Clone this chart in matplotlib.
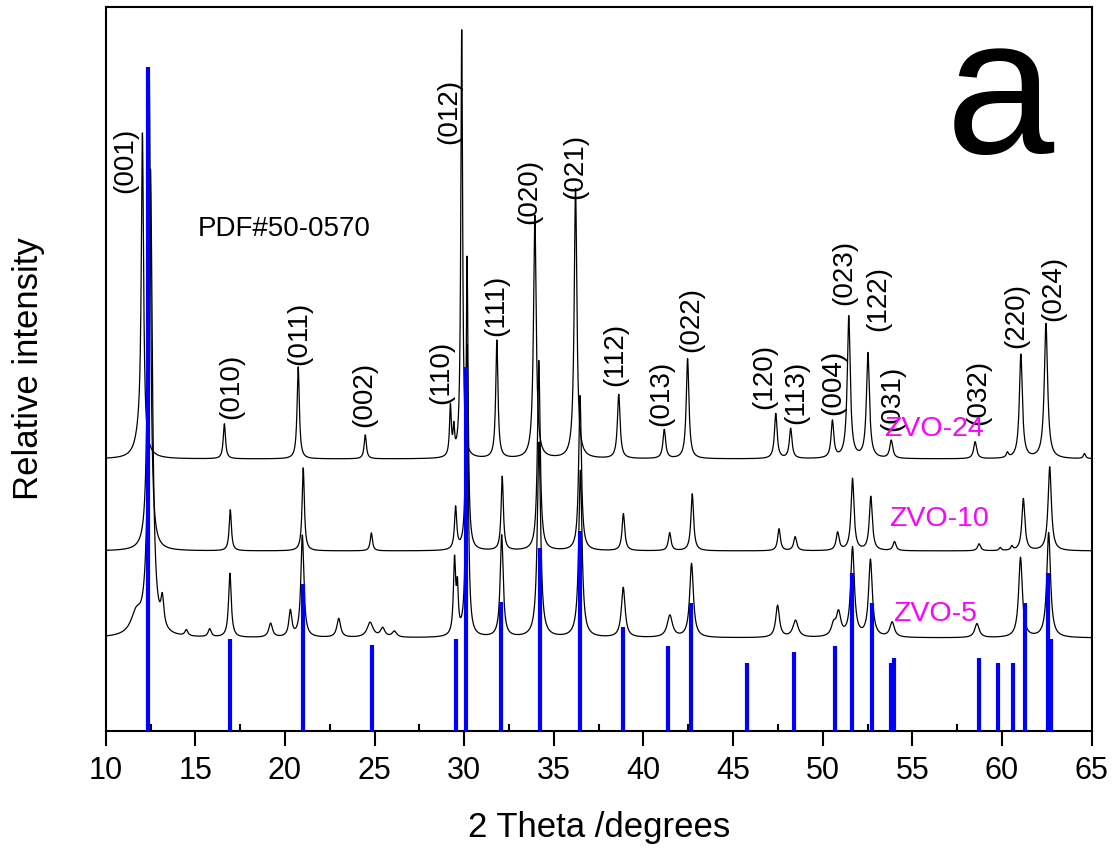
#!/usr/bin/env python3
"""XRD patterns of ZVO-24 / ZVO-10 / ZVO-5 with PDF#50-0570 reference sticks."""
import numpy as np
import matplotlib
matplotlib.use("Agg")
import matplotlib.pyplot as plt  # noqa: E402
from matplotlib import font_manager  # noqa: E402
from matplotlib.ticker import MultipleLocator, NullLocator  # noqa: E402

# ---- data -------------------------------------------------------------------
# peak tables: position (2theta, deg), height (a.u.), FWHM (deg)
ZVO24_POS = [11.90, 12.05, 16.62, 20.74, 24.48, 29.23, 29.42, 29.86, 31.82,
             33.94, 36.21, 38.62, 41.16, 42.46, 47.38, 48.21, 50.54, 51.45,
             52.52, 53.82, 58.50, 60.30, 61.05, 62.45, 64.60]
ZVO24_H = [20, 310, 35, 92, 24, 50, 25, 428, 118, 243, 270, 64, 29, 100, 45,
           30, 37, 142, 105, 18, 17, 5, 104, 135, 5]
ZVO24_W = [0.60, 0.15, 0.15, 0.15, 0.15, 0.12, 0.10, 0.12, 0.15, 0.18, 0.18,
           0.18, 0.18, 0.18, 0.18, 0.18, 0.18, 0.20, 0.20, 0.20, 0.20, 0.15,
           0.20, 0.22, 0.15]

ZVO10_POS = [12.43, 16.95, 21.02, 24.82, 29.52, 30.16, 32.12, 34.16, 36.46,
             38.88, 41.46, 42.72, 47.56, 48.46, 50.83, 51.66, 52.68, 54.00,
             58.72, 59.90, 60.55, 61.19, 62.66]
ZVO10_H = [476, 41, 83, 18, 42, 294, 74, 190, 155, 37, 18, 57, 22, 14, 18, 72,
           54, 9, 7, 3, 4, 52, 84]
ZVO10_W = [0.18, 0.15, 0.15, 0.15, 0.15, 0.13, 0.15, 0.18, 0.18, 0.18, 0.18,
           0.18, 0.18, 0.20, 0.20, 0.20, 0.20, 0.20, 0.20, 0.15, 0.15, 0.20,
           0.22]

ZVO5_POS = [11.70, 12.50, 13.16, 14.50, 15.80, 16.93, 19.20, 20.30, 20.97,
            23.00, 24.75, 25.45, 26.10, 29.46, 29.62, 30.16, 32.09, 34.17,
            36.48, 38.87, 41.47, 42.68, 47.48, 48.48, 50.60, 50.88, 51.66,
            52.66, 53.87, 58.60, 61.03, 62.60]
ZVO5_H = [20, 465, 28, 6, 8, 64, 14, 26, 102, 19, 15, 9, 6, 74, 42, 292, 102,
          195, 167, 50, 22, 74, 32, 17, 11, 23, 89, 77, 15, 14, 80, 105]
ZVO5_W = [0.70, 0.25, 0.20, 0.20, 0.20, 0.18, 0.25, 0.20, 0.20, 0.25, 0.40,
          0.30, 0.30, 0.15, 0.12, 0.15, 0.20, 0.22, 0.22, 0.25, 0.35, 0.25,
          0.25, 0.35, 0.30, 0.30, 0.25, 0.25, 0.30, 0.30, 0.25, 0.25]

# PDF#50-0570 reference lines
PDF_POS = [12.36, 16.91, 21.02, 24.84, 29.52, 30.12, 32.07, 34.20, 36.47,
           38.85, 41.36, 42.66, 45.77, 48.39, 50.71, 51.63, 52.74, 53.82,
           53.97, 58.70, 59.75, 60.59, 61.27, 62.58, 62.74]
PDF_H = [664, 92, 147, 86, 92, 364, 129, 183, 200, 104, 85, 128, 68, 79, 85,
         158, 128, 68, 73, 73, 68, 68, 128, 158, 92]

# vertical offsets of the stacked patterns
OFFSETS = {"ZVO-24": 272, "ZVO-10": 180, "ZVO-5": 93}

# hkl labels: text, x (deg), y centre (a.u.)
HKL_TEXT = ["(001)", "(010)", "(011)", "(002)", "(110)", "(012)", "(111)",
            "(020)", "(021)", "(112)", "(013)", "(022)", "(120)", "(113)",
            "(004)", "(023)", "(122)", "(031)", "(032)", "(220)", "(024)"]
HKL_X = [11.08, 17.00, 20.78, 24.43, 28.70, 29.15, 31.78, 33.65, 36.17, 38.40,
         41.00, 42.65, 46.75, 48.54, 50.56, 51.22, 53.07, 53.85, 58.70, 60.77,
         62.85]
HKL_Y = [571, 345, 398, 337, 359, 620, 426, 540, 565, 377, 338, 411, 355, 339,
         349, 459, 432, 333, 339, 415, 443]

FONT = "Liberation Sans"
NARROW = "Liberation Sans Narrow"


def _profile(x, pos, h, w):
    """Sum of Lorentzian peaks built from the peak table."""
    y = np.zeros_like(x)
    for p, a, f in zip(pos, h, w):
        y += a / (1.0 + ((x - p) / (f / 2.0)) ** 2)
    return y


def main():
    names = {f.name for f in font_manager.fontManager.ttflist}
    tick_font = NARROW if NARROW in names else FONT
    plt.rcParams["font.family"] = [FONT, "DejaVu Sans"]

    fig = plt.figure(figsize=(11.16, 8.5), dpi=100)
    ax = fig.add_axes([0.0947, 0.14, 0.8835, 0.8518])

    x = np.arange(10.0, 65.0005, 0.01)
    series = [("ZVO-24", ZVO24_POS, ZVO24_H, ZVO24_W),
              ("ZVO-10", ZVO10_POS, ZVO10_H, ZVO10_W),
              ("ZVO-5", ZVO5_POS, ZVO5_H, ZVO5_W)]
    for name, pos, h, w in series:
        ax.plot(x, OFFSETS[name] + _profile(x, pos, h, w),
                color="black", linewidth=0.9, zorder=2)

    ax.vlines(PDF_POS, 0, PDF_H, color="#0000FF", linewidth=3.0, zorder=3)

    for t, hx, hy in zip(HKL_TEXT, HKL_X, HKL_Y):
        ax.text(hx, hy, t, rotation=90, ha="center", va="center",
                fontsize=20, color="black")

    ax.text(19.95, 502, "PDF#50-0570", ha="center", va="center", fontsize=20)
    ax.text(53.44, 302, "ZVO-24", ha="left", va="center", fontsize=20.5,
            color="#FF00FF")
    ax.text(53.70, 212, "ZVO-10", ha="left", va="center", fontsize=20.5,
            color="#FF00FF")
    ax.text(53.90, 117, "ZVO-5", ha="left", va="center", fontsize=20.5,
            color="#FF00FF")
    ax.text(59.9, 628, "a", ha="center", va="center", fontsize=140)

    ax.set_xlim(10, 65)
    ax.set_ylim(0, 724)
    ax.xaxis.set_major_locator(MultipleLocator(5))
    ax.xaxis.set_minor_locator(MultipleLocator(2.5))
    ax.yaxis.set_major_locator(NullLocator())
    ax.tick_params(axis="x", which="major", direction="out", length=11,
                   width=1.5, pad=7, labelsize=22)
    ax.tick_params(axis="x", which="minor", direction="in", length=5,
                   width=1.5)
    for lab in ax.get_xticklabels():
        lab.set_family([tick_font, FONT])
    for sp in ax.spines.values():
        sp.set_linewidth(1.5)

    ax.set_xlabel("2 Theta /degrees", fontsize=25)
    ax.xaxis.set_label_coords(0.5, -0.11)
    ax.set_ylabel("Relative intensity", fontsize=25)
    ax.yaxis.set_label_coords(-0.062, 0.5)

    fig.savefig("out.png", dpi=100)
    plt.close(fig)


if __name__ == "__main__":
    main()
